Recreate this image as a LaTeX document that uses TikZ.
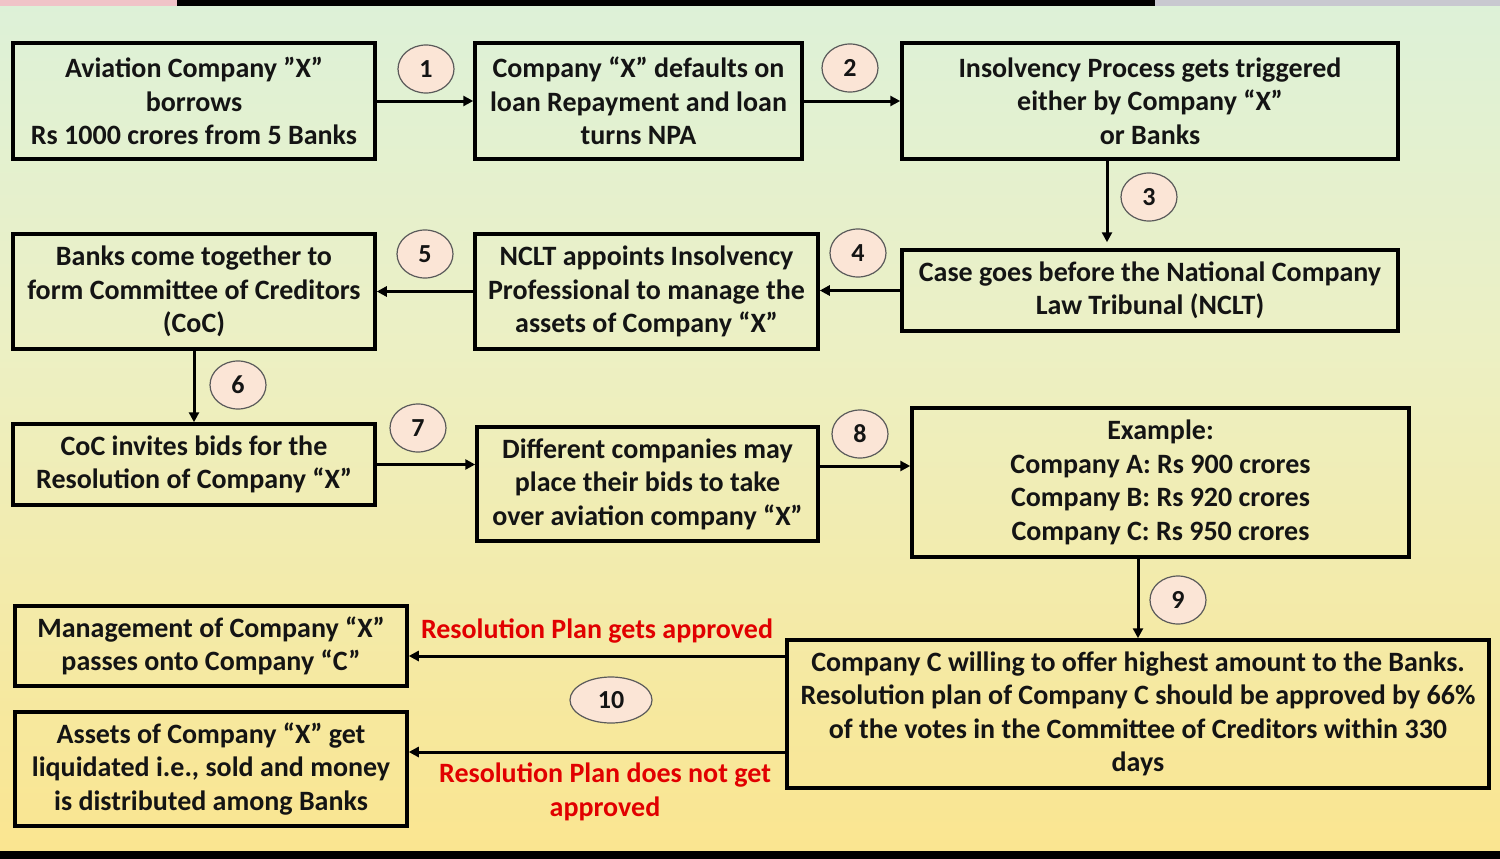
\documentclass[tikz,border=0pt]{standalone}
\usepackage{fontspec}
\setmainfont{Carlito}
\usetikzlibrary{shapes.geometric,arrows.meta}
\definecolor{bgtop}{RGB}{221,241,216}
\definecolor{bgmid}{RGB}{236,240,196}
\definecolor{bgbot}{RGB}{252,228,138}
\definecolor{numfill}{RGB}{251,229,214}
\definecolor{numline}{RGB}{90,90,90}
\definecolor{redlab}{RGB}{225,0,0}
\definecolor{txt}{RGB}{20,20,20}
\definecolor{stripink}{RGB}{240,196,200}
\definecolor{stripgray}{RGB}{200,200,208}
\pgfdeclareverticalshading{bgshade}{100bp}{color(0bp)=(bgbot); color(22bp)=(bgbot); color(55bp)=(bgmid); color(75bp)=(bgtop); color(100bp)=(bgtop)}
\tikzset{
  stepbox/.style={draw=black, line width=3.5pt, align=center, text=txt, inner sep=0pt,
    font=\fontsize{28}{33.5}\selectfont\bfseries},
  numbub/.style={ellipse, draw=numline, line width=1.2pt, fill=numfill, inner sep=0pt,
    minimum width=56pt, minimum height=48pt, text=txt, font=\fontsize{26}{28}\selectfont\bfseries},
  arr/.style={line width=3pt, draw=black, -{Triangle[length=10pt,width=10pt]}},
  redtext/.style={text=redlab, align=center, inner sep=0pt, font=\fontsize{28}{33.5}\selectfont\bfseries}
}
\begin{document}
\begin{tikzpicture}[x=1pt,y=-1pt]
\useasboundingbox (0,0) rectangle (1500,859);
% background
\shade[shading=bgshade] (0,0) rectangle (1500,859);
\fill[stripink] (0,0) rectangle (177,6);
\fill[black] (177,0) rectangle (1155,6);
\fill[stripgray] (1155,0) rectangle (1500,6);
\fill[black] (0,851) rectangle (1500,859);
% boxes
\node[stepbox, minimum width=362pt, minimum height=116pt] (b1) at (194,101)
  {Aviation Company ”X”\\borrows\\Rs 1000 crores from 5 Banks};
\node[stepbox, minimum width=327pt, minimum height=116pt] (b2) at (638.5,101)
  {Company “X” defaults on\\loan Repayment and loan\\turns NPA};
\node[stepbox, minimum width=496pt, minimum height=116pt] (b3) at (1150,101)
  {Insolvency Process gets triggered\\either by Company “X”\\or Banks};
\node[stepbox, minimum width=496pt, minimum height=81pt] (b4) at (1150,290.5)
  {Case goes before the National Company\\Law Tribunal (NCLT)};
\node[stepbox, minimum width=343pt, minimum height=115pt] (b5) at (646.5,291.5)
  {NCLT appoints Insolvency\\Professional to manage the\\assets of Company “X”};
\node[stepbox, minimum width=362pt, minimum height=115pt] (b6) at (194,291.5)
  {Banks come together to\\form Committee of Creditors\\(CoC)};
\node[stepbox, minimum width=362pt, minimum height=81pt] (b7) at (194,464.5)
  {CoC invites bids for the\\Resolution of Company “X”};
\node[stepbox, minimum width=341pt, minimum height=114pt] (b8) at (647.5,484)
  {Different companies may\\place their bids to take\\over aviation company “X”};
\node[stepbox, minimum width=497pt, minimum height=149pt] (b9) at (1160.5,482.5)
  {Example:\\Company A: Rs 900 crores\\Company B: Rs 920 crores\\Company C: Rs 950 crores};
\node[stepbox, minimum width=702pt, minimum height=148pt] (b10) at (1138,714)
  {Company C willing to offer highest amount to the Banks.\\Resolution plan of Company C should be approved by 66\%\\of the votes in the Committee of Creditors within 330\\days};
\node[stepbox, minimum width=392pt, minimum height=80pt] (b11) at (211,646)
  {Management of Company “X”\\passes onto Company “C”};
\node[stepbox, minimum width=392pt, minimum height=114pt] (b12) at (211,769)
  {Assets of Company “X” get\\liquidated i.e., sold and money\\is distributed among Banks};
% connectors
\draw[arr] (b1.east) -- (b2.west);
\draw[arr] (b2.east) -- (b3.west);
\draw[arr] ([xshift=-43pt]b3.south) -- ([xshift=-43pt,yshift=6pt]b4.north);
\draw[arr] (b4.west) -- (b4.west -| b5.east);
\draw[arr] (b5.west) -- (b5.west -| b6.east);
\draw[arr] (b6.south) -- (b7.north);
\draw[arr] (b7.east) -- (b7.east -| b8.west);
\draw[arr] ([yshift=18pt]b8.east) -- ([yshift=18pt]b8.east -| b9.west);
\draw[arr] (b9.south -| b10.north) -- (b10.north);
\draw[arr] ([yshift=-10pt]b11.east -| b10.west) -- ([yshift=-10pt]b11.east);
\draw[arr] ([yshift=17pt]b12.east -| b10.west) -- ([yshift=17pt]b12.east);
% number bubbles
\node[numbub] (n1) at (426,69) {1};
\node[numbub] (n2) at (850,68) {2};
\node[numbub] (n3) at (1149,197) {3};
\node[numbub] (n4) at (858,253) {4};
\node[numbub] (n5) at (425,254) {5};
\node[numbub] (n6) at (238,385) {6};
\node[numbub] (n7) at (418,428) {7};
\node[numbub] (n8) at (860,434) {8};
\node[numbub] (n9) at (1178,600) {9};
\node[numbub, minimum width=82pt, minimum height=46pt] (n10) at (611,700) {10};
% red labels
\node[redtext] (l1) at (597,631) {Resolution Plan gets approved};
\node[redtext] (l2) at (605,792) {Resolution Plan does not get\\approved};
\end{tikzpicture}
\end{document}
